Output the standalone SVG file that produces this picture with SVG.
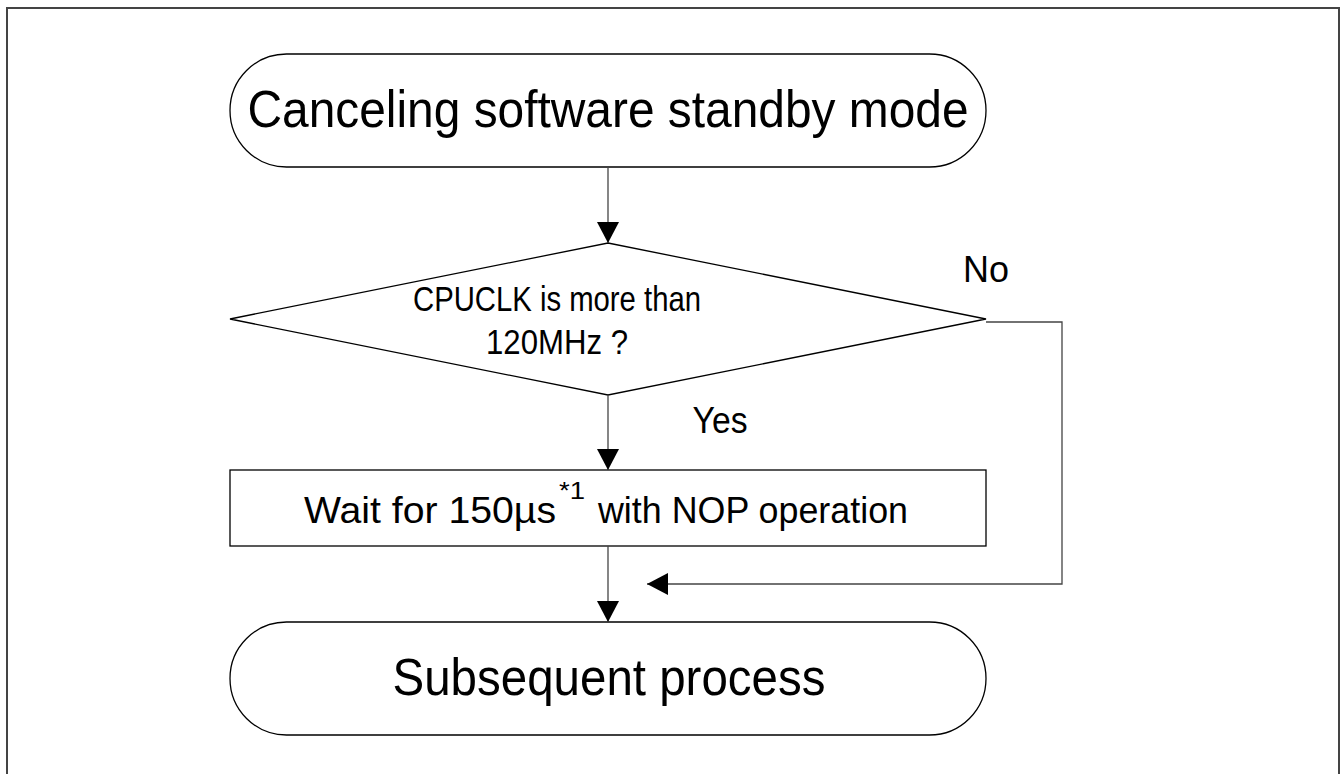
<svg xmlns="http://www.w3.org/2000/svg" width="1341" height="774" viewBox="0 0 1341 774">
<style>
.shape{fill:#fff;stroke:#000;stroke-width:1.3}
.conn{fill:none;stroke:#444;stroke-width:1.3}
.t{font-family:"Liberation Sans",Arial,sans-serif;fill:#000;text-anchor:middle}
.s{font-family:"Liberation Sans",Arial,sans-serif;fill:#000;text-anchor:start}
</style>
<defs>
<marker id="arr" markerUnits="userSpaceOnUse" markerWidth="22" markerHeight="22" refX="21" refY="11" orient="auto">
<path d="M0,0 L21,11 L0,22 Z" fill="#000"/>
</marker>
</defs>
<rect x="0" y="0" width="1341" height="774" fill="#fff"/>
<rect x="7" y="8" width="1332" height="790" fill="none" stroke="#444" stroke-width="2"/>
<g id="start">
<rect class="shape" x="230" y="54" width="756" height="113" rx="56.5" ry="56.5"/>
<text class="t" x="608" y="127" font-size="52" textLength="721" lengthAdjust="spacingAndGlyphs">Canceling software standby mode</text>
</g>
<g id="decision">
<polygon class="shape" points="608,243 986,319 608,395 230,319"/>
<text class="t" x="557" y="311" font-size="35" textLength="288" lengthAdjust="spacingAndGlyphs">CPUCLK is more than</text>
<text class="t" x="557" y="354" font-size="35" textLength="142" lengthAdjust="spacingAndGlyphs">120MHz ?</text>
</g>
<g id="wait">
<rect class="shape" x="230" y="470" width="756" height="76"/>
<text class="s" x="304" y="523" font-size="36" textLength="252" lengthAdjust="spacingAndGlyphs">Wait for 150µs</text>
<text class="s" x="559" y="499" font-size="24" textLength="26" lengthAdjust="spacingAndGlyphs">*1</text>
<text class="s" x="598" y="523" font-size="36" textLength="310" lengthAdjust="spacingAndGlyphs">with NOP operation</text>
</g>
<g id="end">
<rect class="shape" x="230" y="622" width="756" height="113" rx="56.5" ry="56.5"/>
<text class="t" x="609" y="695" font-size="52" textLength="433" lengthAdjust="spacingAndGlyphs">Subsequent process</text>
</g>
<g id="connectors">
<line class="conn" x1="608" y1="167" x2="608" y2="243" marker-end="url(#arr)"/>
<line class="conn" x1="608" y1="395" x2="608" y2="470" marker-end="url(#arr)"/>
<line class="conn" x1="608" y1="546" x2="608" y2="622" marker-end="url(#arr)"/>
<polyline class="conn" points="986,322 1062,322 1062,584 647,584" marker-end="url(#arr)"/>
</g>
<g id="labels">
<text class="t" x="986" y="282" font-size="36" textLength="46" lengthAdjust="spacingAndGlyphs">No</text>
<text class="t" x="720" y="433" font-size="36" textLength="55" lengthAdjust="spacingAndGlyphs">Yes</text>
</g>
</svg>
